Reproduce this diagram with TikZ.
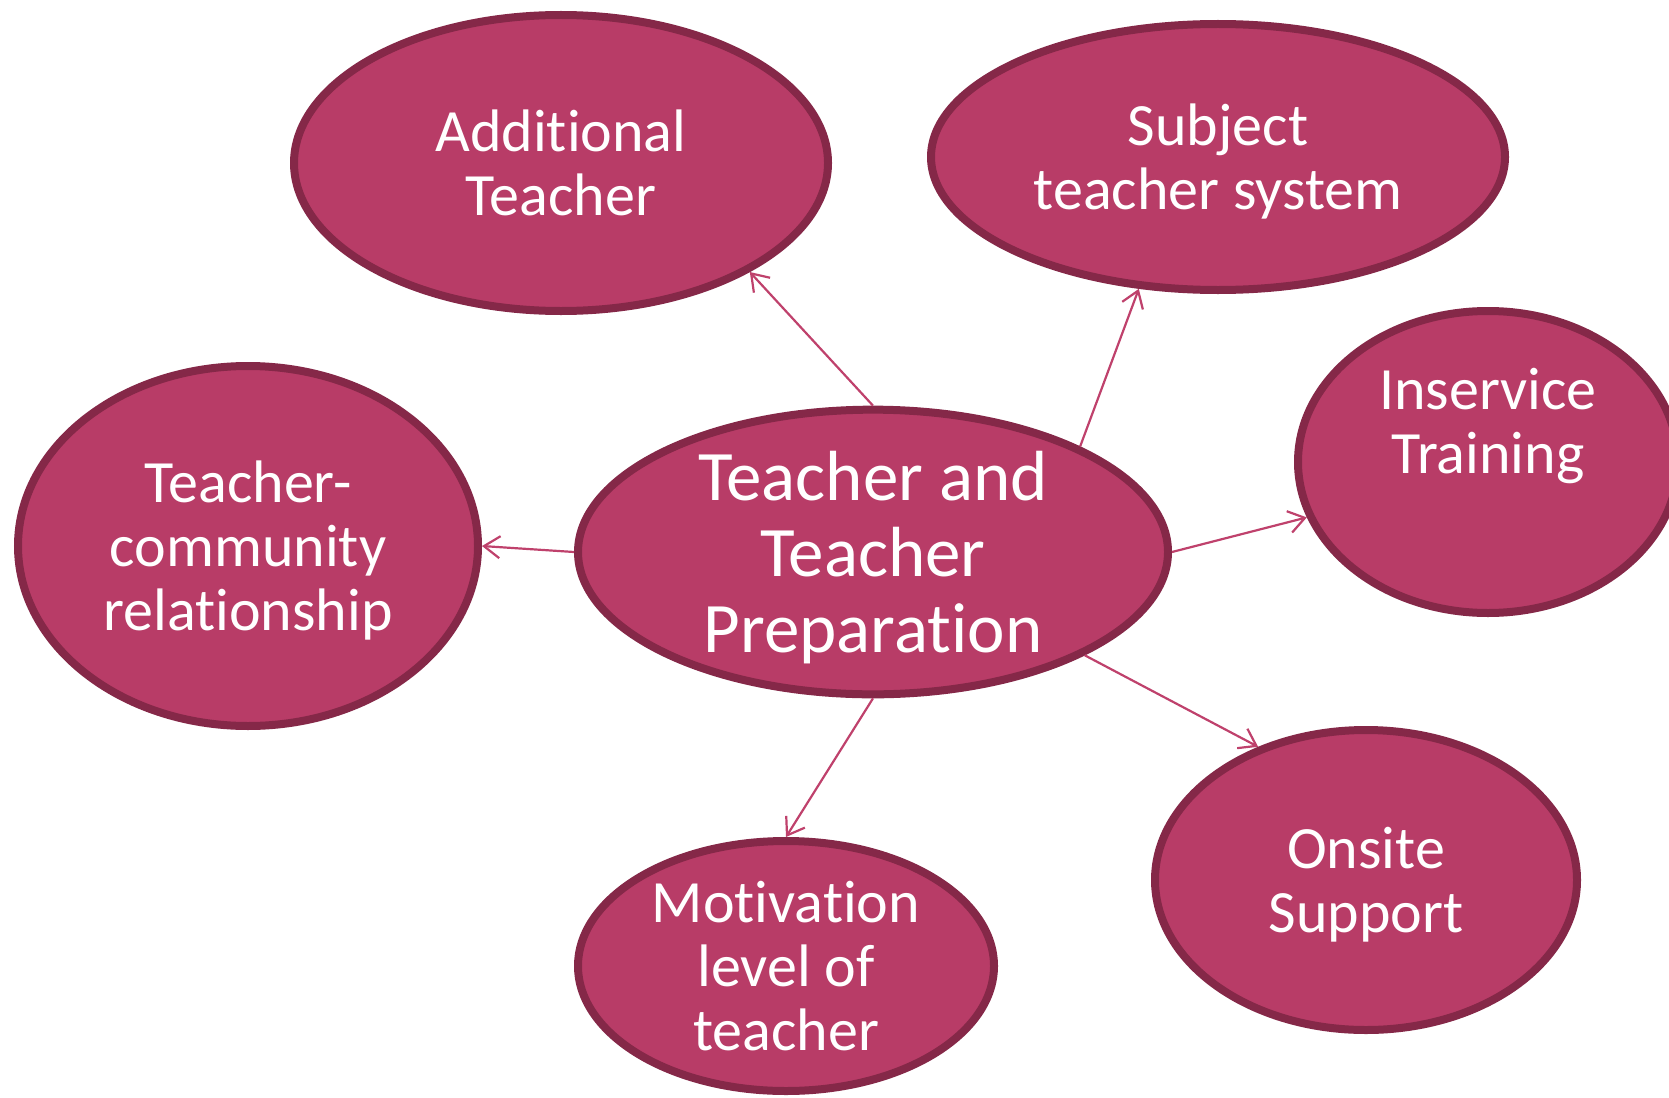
\documentclass[tikz,border=0pt]{standalone}
\usepackage{fontspec}
\setmainfont{Carlito}[Ligatures=NoCommon]
\usetikzlibrary{arrows.meta,shapes.geometric}
\definecolor{bubblefill}{HTML}{B83C67}
\definecolor{bubbleedge}{HTML}{852848}
\definecolor{linkpink}{HTML}{BF416C}

\begin{document}
\begin{tikzpicture}[
        x=1pt, y=-1pt,
        bubble/.style={
            ellipse,
            draw=bubbleedge,
            line width=8pt,
            fill=bubblefill,
            inner sep=0pt,
            align=center,
            text=white,
            text depth=0pt,
            font=\fontsize{60}{64}\selectfont
        },
        bigbubble/.style={bubble, font=\fontsize{71}{76}\selectfont},
        line/.style={-{Straight Barb[length=16pt,width=22pt,line width=2.2pt]},line width=2.2pt,linkpink}
    ]
        \useasboundingbox (0,0) rectangle (1669,1097);
        \clip (0,0) rectangle (1669,1097);

        \node[bigbubble, minimum width=590pt, minimum height=284pt] (core) at (873,552) {Teacher and\\Teacher\\Preparation};
        \node[bubble, minimum width=534pt, minimum height=296pt] (additional) at (561,163) {Additional\\Teacher};
        \node[bubble, minimum width=574pt, minimum height=266pt] (subject) at (1218,157) {Subject\\teacher system};
        \node[bubble, minimum width=380pt, minimum height=302pt,
              label={[text=white, align=center, font=\fontsize{60}{64}\selectfont, yshift=36pt]center:Inservice\\Training}] (inservice) at (1488,462) {};
        \node[bubble, minimum width=460pt, minimum height=360pt] (community) at (248,546) {Teacher-\\community\\relationship};
        \node[bubble, minimum width=422pt, minimum height=300pt] (onsite) at (1366,880) {Onsite\\Support};
        \node[bubble, minimum width=416pt, minimum height=250pt] (motivation) at (786,966) {Motivation\\level of\\teacher};

        \draw[line] (core.north) -- (additional.-30);
        \draw[line] (core.27) -- (subject.239);
        \draw[line] (core.east) -- (inservice.197);
        \draw[line] (core.-26) -- (onsite.129);
        \draw[line] (core.south) -- (motivation.north);
        \draw[line] (core.west) -- (community.east);
    \end{tikzpicture}
\end{document}
